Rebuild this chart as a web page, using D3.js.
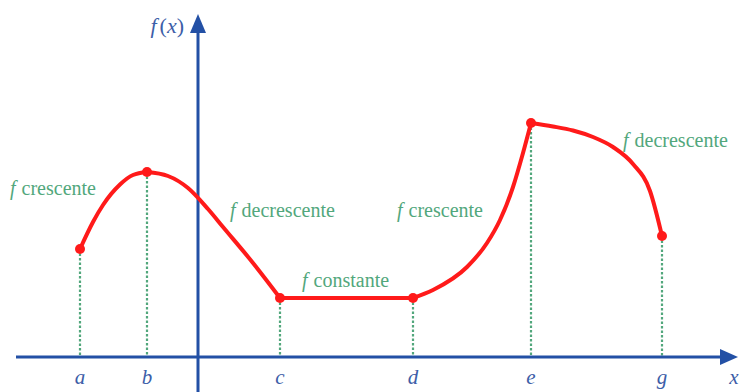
<!DOCTYPE html>
<html>
<head>
<meta charset="utf-8">
<script src="https://cdn.jsdelivr.net/npm/d3@7"></script>
</head>
<body>
<svg id="s" width="740" height="392" style="position:absolute;left:0;top:0"></svg>
<script>
// Key points of f on the x axis and their values
const pointNames = ["a", "b", "c", "d", "e", "g"];
const pointX = [-11.8, -5.1, 8.2, 21.5, 33.3, 46.4];
const pointY = [10.8, 18.5, 5.9, 5.9, 23.4, 12.1];

// Pieces of the curve, each one sampled between two key points
const seg1X = [-11.8, -10.5, -9.5, -7.8, -6.5, -5.1];
const seg1Y = [10.8, 13.5, 15.2, 17.25, 18.2, 18.5];
const seg2X = [-5.1, -3.0, -1.0, 1.0, 2.5, 5.5, 8.2];
const seg2Y = [18.5, 18.1, 16.9, 14.8, 13.0, 9.4, 5.9];
const seg3X = [8.2, 21.5];
const seg3Y = [5.9, 5.9];
const seg4X = [21.5, 23.5, 26.9, 28.9, 30.2, 31.5, 32.5, 33.3];
const seg4Y = [5.9, 6.7, 9.0, 11.4, 13.7, 17.0, 20.4, 23.4];
const seg5X = [33.3, 35.5, 37.5, 39.5, 41.5, 43.5, 45.2, 46.4];
const seg5Y = [23.4, 23.05, 22.65, 22.0, 21.0, 19.3, 16.6, 12.1];

// Monotonicity notes and where they sit (data units: left edge, baseline)
const noteWords = ["crescente", "decrescente", "constante", "crescente", "decrescente"];
const noteX = [-18.8, 3.2, 10.4, 19.9, 42.5];
const noteY = [16.2, 14.0, 7.0, 14.0, 21.0];

const W = 740, H = 392;
const svg = d3.select("#s");

const x = d3.scaleLinear().domain([-18.2, 54]).range([16, 738]);
const y = d3.scaleLinear().domain([0, 34]).range([357, 17]);

const axisBlue = "#2350a5";
const labelBlue = "#3d5ea8";
const red = "#ff1a1a";
const green = "#52a77c";
const face = '"Liberation Serif"';

// Dotted guides from each key point down to the x axis
svg.append("g").selectAll("line")
  .data(pointX)
  .join("line")
  .attr("x1", d => x(d)).attr("x2", d => x(d))
  .attr("y1", (d, i) => y(pointY[i])).attr("y2", y(0))
  .attr("stroke", green)
  .attr("stroke-width", 2.2)
  .attr("stroke-dasharray", "2.5,2");

// Axes
const axes = svg.append("g");
axes.append("line")
  .attr("x1", x(-18.2)).attr("x2", W - 14)
  .attr("y1", y(0)).attr("y2", y(0))
  .attr("stroke", axisBlue).attr("stroke-width", 3);
axes.append("path")
  .attr("d", `M${W - 2},${y(0)} L${W - 20},${y(0) - 8} L${W - 20},${y(0) + 8} Z`)
  .attr("fill", axisBlue);
axes.append("line")
  .attr("x1", x(0)).attr("x2", x(0))
  .attr("y1", H).attr("y2", 28)
  .attr("stroke", axisBlue).attr("stroke-width", 3);
axes.append("path")
  .attr("d", `M${x(0)},14 L${x(0) - 8},33 L${x(0) + 8},33 Z`)
  .attr("fill", axisBlue);

// Curve of f, drawn piece by piece
const line = d3.line()
  .x(d => x(d[0]))
  .y(d => y(d[1]))
  .curve(d3.curveMonotoneX);

const segments = [
  [seg1X, seg1Y], [seg2X, seg2Y], [seg3X, seg3Y], [seg4X, seg4Y], [seg5X, seg5Y]
].map(([xs, ys]) => xs.map((v, i) => [v, ys[i]]));

svg.append("g").selectAll("path")
  .data(segments)
  .join("path")
  .attr("d", line)
  .attr("fill", "none")
  .attr("stroke", red)
  .attr("stroke-width", 4)
  .attr("stroke-linecap", "round")
  .attr("stroke-linejoin", "round");

// Key points
svg.append("g").selectAll("circle")
  .data(pointX)
  .join("circle")
  .attr("cx", d => x(d))
  .attr("cy", (d, i) => y(pointY[i]))
  .attr("r", 5)
  .attr("fill", red);

// Labels under the x axis
svg.append("g").selectAll("text")
  .data(pointNames.concat(["x"]))
  .join("text")
  .attr("x", (d, i) => x(i < pointX.length ? pointX[i] : 53.6))
  .attr("y", y(0) + 27)
  .attr("text-anchor", "middle")
  .attr("font-size", 21)
  .attr("fill", labelBlue)
  .style("font-family", face)
  .html(d => `<tspan font-style="italic">${d}</tspan>`);

// Name of the vertical axis
svg.append("text")
  .attr("x", x(0) - 14)
  .attr("y", 33)
  .attr("text-anchor", "end")
  .attr("font-size", 22)
  .attr("fill", labelBlue)
  .style("font-family", face)
  .html('<tspan font-style="italic">f</tspan><tspan dx="3">(</tspan><tspan font-style="italic">x</tspan>)');

// Monotonicity notes
svg.append("g").selectAll("text")
  .data(noteWords)
  .join("text")
  .attr("x", (d, i) => x(noteX[i]))
  .attr("y", (d, i) => y(noteY[i]))
  .attr("font-size", 20)
  .attr("fill", green)
  .style("font-family", face)
  .html(d => `<tspan font-style="italic">f</tspan><tspan dx="6">${d}</tspan>`);
</script>
</body>
</html>
